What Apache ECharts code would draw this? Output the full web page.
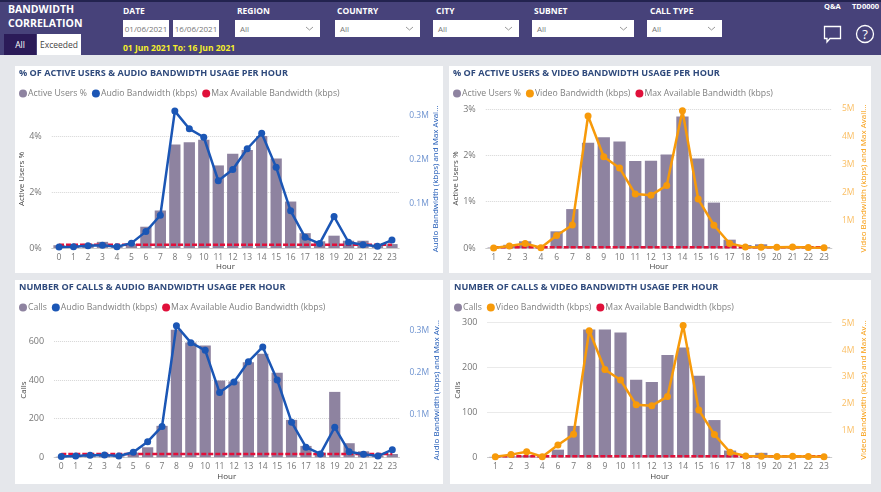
<!DOCTYPE html>
<html>
<head>
<meta charset="utf-8">
<title>Bandwidth Correlation</title>
<script src="https://cdn.jsdelivr.net/npm/echarts@6/dist/echarts.min.js"></script>
<style>
  html, body { margin: 0; padding: 0; background: #e5e7eb; font-family: "Open Sans", sans-serif; }
  #page { position: relative; width: 881px; height: 492px; overflow: hidden; }
  #header { position: absolute; left: 0; top: 0; width: 881px; height: 55px; background: #47427a; border-top: 2px solid #23234f; box-sizing: border-box; color: #fff; }
  #header div { position: absolute; white-space: nowrap; }
  .brand { left: 8px; font-weight: 700; font-size: 10.5px; }
  .lbl { top: 3px; font-weight: 700; font-size: 8.5px; }
  .box { top: 18px; height: 17px; background: #fff; color: #777; font-size: 8px; line-height: 17px; text-align: center; }
  .sel { text-align: left; text-indent: 5px; }
  .sel svg { position: absolute; right: 6px; top: 6px; }
  .tab { top: 32px; height: 21px; line-height: 21px; text-align: center; font-size: 8.5px; }
  .panel { position: absolute; background: #fff; }
</style>
</head>
<body>
<div id="page">
  <div id="header">
    <div class="brand" style="top:0px">BANDWIDTH</div>
    <div class="brand" style="top:14px">CORRELATION</div>
    <div class="tab" style="left:4px;width:32px;background:#2b1b58;color:#fff">All</div>
    <div class="tab" style="left:37px;width:44px;background:#fff;color:#444">Exceeded</div>
    <div class="lbl" style="left:123px">DATE</div>
    <div class="box" style="left:123px;width:46px">01/06/2021</div>
    <div class="box" style="left:173px;width:46px">16/06/2021</div>
    <div style="left:123px;top:40px;color:#f6ee2a;font-weight:700;font-size:8.5px">01 Jun 2021 To: 16 Jun 2021</div>
    <div class="lbl" style="left:237px">REGION</div>
    <div class="box sel" style="left:235px;width:85px">All<svg width="9" height="5"><path d="M1 1l3.5 3L8 1" fill="none" stroke="#999"/></svg></div>
    <div class="lbl" style="left:337px">COUNTRY</div>
    <div class="box sel" style="left:335px;width:85px">All<svg width="9" height="5"><path d="M1 1l3.5 3L8 1" fill="none" stroke="#999"/></svg></div>
    <div class="lbl" style="left:436px">CITY</div>
    <div class="box sel" style="left:433px;width:86px">All<svg width="9" height="5"><path d="M1 1l3.5 3L8 1" fill="none" stroke="#999"/></svg></div>
    <div class="lbl" style="left:534px">SUBNET</div>
    <div class="box sel" style="left:532px;width:102px">All<svg width="9" height="5"><path d="M1 1l3.5 3L8 1" fill="none" stroke="#999"/></svg></div>
    <div class="lbl" style="left:650px">CALL TYPE</div>
    <div class="box sel" style="left:647px;width:75px">All<svg width="9" height="5"><path d="M1 1l3.5 3L8 1" fill="none" stroke="#999"/></svg></div>
    <div style="left:824px;top:-1px;font-weight:700;font-size:7.5px">Q&amp;A</div>
    <div style="left:852px;top:-1px;font-weight:700;font-size:7.5px">TD0000</div>
    <div style="left:823px;top:22px">
      <svg width="20" height="20"><path d="M1.5 2.5h16v12H7l-3 3.5v-3.5H1.5z" fill="none" stroke="#fff" stroke-width="1.3"/></svg>
    </div>
    <div style="left:855px;top:22px">
      <svg width="20" height="20"><circle cx="10" cy="10" r="8.5" fill="none" stroke="#fff" stroke-width="1.3"/><text x="10" y="14.5" text-anchor="middle" font-size="13" fill="#fff" font-family="Open Sans">?</text></svg>
    </div>
  </div>
  <div class="panel" id="c1" style="left:15px;top:66px;width:428px;height:207px"></div>
  <div class="panel" id="c2" style="left:449px;top:66px;width:422px;height:207px"></div>
  <div class="panel" id="c3" style="left:15px;top:280px;width:428px;height:204px"></div>
  <div class="panel" id="c4" style="left:450px;top:280px;width:421px;height:204px"></div>
</div>
<script>
// hours present in each pair of visuals (video pages have no hour 0 or 5)
const audioHours = ['0','1','2','3','4','5','6','7','8','9','10','11','12','13','14','15','16','17','18','19','20','21','22','23'];
const videoHours = ['1','2','3','4','6','7','8','9','10','11','12','13','14','15','16','17','18','19','20','21','22','23'];

const audioUsersPct = [0.1,0.08,0.15,0.22,0.06,0.15,0.76,1.34,3.7,3.78,3.87,2.95,3.37,3.5,4.0,3.2,1.66,0.53,0.24,0.44,0.26,0.26,0.1,0.14];
const audioKbpsA = [2000,3000,5000,6000,3000,11000,37000,74000,309000,269000,250000,152000,177000,224000,259000,182000,84000,24000,10000,71000,13000,7500,4000,18000];
const maxAudioKbpsA = [7500,7500,7500,7500,7500,7500,7500,7500,7500,7500,7500,7500,7500,7500,7500,7500,7500,7500,7500,7500,7500,7500,7500,7500];

const videoUsersPct = [0.01,0.07,0.145,0.015,0.36,0.84,2.27,2.39,2.3,1.88,1.885,2.02,2.84,1.93,0.98,0.18,0.065,0.08,0.035,0.035,0.02,0.015];
const videoKbpsA = [0,70000,160000,10000,450000,830000,4750000,3280000,2880000,1940000,1900000,2250000,4940000,1760000,820000,160000,40000,30000,30000,40000,20000,10000];
const maxVideoKbpsA = [25000,25000,25000,25000,25000,25000,25000,25000,25000,25000,25000,25000,25000,25000,25000,25000,25000,25000,25000,25000,25000,25000];

const audioCalls = [3,3,8,10,5,24,52,163,661,595,580,398,393,493,536,438,194,59,24,339,73,31,10,17];
const audioKbpsB = [2000,3000,5000,5500,3000,12000,37000,73000,311000,271000,253000,153000,178000,226000,261000,183000,83000,24000,8000,71000,13000,7000,3000,18000];
const maxAudioKbpsB = [8000,8000,8000,8000,8000,8000,8000,8000,8000,8000,8000,8000,8000,8000,8000,8000,8000,8000,8000,8000,8000,8000,8000,8000];

const videoCalls = [1,2,4,1,17,70,285,285,278,173,168,228,245,182,83,15,4,10,3,2,2,1];
const videoKbpsB = [20000,100000,210000,20000,460000,860000,4730000,3280000,2890000,1960000,1930000,2270000,4930000,1770000,850000,190000,50000,40000,30000,40000,30000,20000];
const maxVideoKbpsB = [35000,35000,35000,35000,35000,35000,35000,35000,35000,35000,35000,35000,35000,35000,35000,35000,35000,35000,35000,35000,35000,35000];

const FONT = '"Open Sans", sans-serif';
const BAR = '#8e83a0';
const BLUE = '#1b56b5';
const ORANGE = '#f79a0a';
const RED = '#e0103a';

function drawPanel(id, cfg) {
  const chart = echarts.init(document.getElementById(id), null, { renderer: 'canvas' });
  chart.setOption({
    animation: false,
    textStyle: { fontFamily: FONT },
    title: {
      text: cfg.title, left: 4, top: 0, padding: 0,
      textStyle: { fontFamily: FONT, fontSize: 9.1, fontWeight: 700, color: '#2f4a7c', lineHeight: 14 }
    },
    legend: {
      left: 4, top: 23, padding: 0, itemWidth: 8, itemHeight: 8, itemGap: 5,
      icon: 'circle',
      textStyle: { fontFamily: FONT, fontSize: 8.7, color: '#808080', padding: [0, 0, 0, -4] },
      data: [cfg.barName, cfg.lineName, cfg.maxName]
    },
    grid: { ...cfg.grid, outerBoundsMode: 'none' },
    xAxis: {
      type: 'category', data: cfg.hours, name: 'Hour', nameLocation: 'middle', nameGap: 15,
      nameMoveOverlap: false,
      nameTextStyle: { fontSize: 8, color: '#444', fontFamily: FONT },
      axisTick: { show: false },
      axisLine: { lineStyle: { color: '#ccc' } },
      axisLabel: { interval: 0, fontSize: 8.5, color: '#777', margin: 5 }
    },
    yAxis: [
      {
        type: 'value', min: 0, max: cfg.leftMax, interval: cfg.leftStep,
        name: cfg.leftName, nameLocation: 'middle', nameRotate: 90, nameGap: 26,
        nameMoveOverlap: false,
        nameTextStyle: { fontSize: 8, color: '#444', fontFamily: FONT },
        axisLabel: {
          fontSize: 9, color: '#777', margin: 10,
          formatter: v => (v % cfg.leftStep === 0 ? v + cfg.leftUnit : '')
        },
        axisLine: { show: false }, axisTick: { show: false },
        splitLine: { showMaxLine: cfg.leftMaxLine, lineStyle: { type: 'dotted', color: '#d5d5d5' } }
      },
      {
        type: 'value', min: 0, max: cfg.rightMax, interval: cfg.rightStep,
        name: cfg.rightName, nameLocation: 'middle', nameRotate: 90, nameGap: cfg.rightGap,
        nameMoveOverlap: false,
        nameTextStyle: { fontSize: 8, color: cfg.color, fontFamily: FONT },
        axisLabel: {
          fontSize: 8.5, color: cfg.color, opacity: 0.65, margin: 10,
          formatter: v => (v > 0 && v % cfg.rightStep === 0 ? (v / 1e6) + 'M' : '')
        },
        axisLine: { show: false }, axisTick: { show: false },
        splitLine: { show: false }
      }
    ],
    series: [
      {
        name: cfg.barName, type: 'bar', data: cfg.bars, barCategoryGap: '22%',
        itemStyle: { color: BAR }
      },
      {
        name: cfg.maxName, type: 'line', yAxisIndex: 1, data: cfg.max, symbol: 'none',
        itemStyle: { color: RED },
        lineStyle: { color: RED, width: 2.5, type: [5, 2] }
      },
      {
        name: cfg.lineName, type: 'line', yAxisIndex: 1, data: cfg.line,
        symbol: 'circle', symbolSize: 7,
        itemStyle: { color: cfg.color },
        lineStyle: { color: cfg.color, width: 2.5 }
      }
    ]
  });
}

drawPanel('c1', {
  title: '% OF ACTIVE USERS & AUDIO BANDWIDTH USAGE PER HOUR',
  barName: 'Active Users %', lineName: 'Audio Bandwidth (kbps)', maxName: 'Max Available Bandwidth (kbps)',
  hours: audioHours, bars: audioUsersPct, line: audioKbpsA, max: maxAudioKbpsA, color: BLUE,
  grid: { left: 36.8, top: 44, width: 347.4, height: 138 },
  leftName: 'Active Users %', leftMax: 4.93, leftStep: 2, leftUnit: '%', leftMaxLine: false,
  rightName: 'Audio Bandwidth (kbps) and Max Avai…', rightMax: 311500, rightStep: 100000, rightGap: 33
});
drawPanel('c2', {
  title: '% OF ACTIVE USERS & VIDEO BANDWIDTH USAGE PER HOUR',
  barName: 'Active Users %', lineName: 'Video Bandwidth (kbps)', maxName: 'Max Available Bandwidth (kbps)',
  hours: videoHours, bars: videoUsersPct, line: videoKbpsA, max: maxVideoKbpsA, color: ORANGE,
  grid: { left: 36.8, top: 43, width: 346.1, height: 139 },
  leftName: 'Active Users %', leftMax: 3, leftStep: 1, leftUnit: '%', leftMaxLine: true,
  rightName: 'Video Bandwidth (kbps) and Max Avail…', rightMax: 5000000, rightStep: 1000000, rightGap: 28
});
drawPanel('c3', {
  title: 'NUMBER OF CALLS & AUDIO BANDWIDTH USAGE PER HOUR',
  barName: 'Calls', lineName: 'Audio Bandwidth (kbps)', maxName: 'Max Available Audio Bandwidth (kbps)',
  hours: audioHours, bars: audioCalls, line: audioKbpsB, max: maxAudioKbpsB, color: BLUE,
  grid: { left: 39.1, top: 43, width: 345.4, height: 134.3 },
  leftName: 'Calls', leftMax: 696, leftStep: 200, leftUnit: '', leftMaxLine: false,
  rightName: 'Audio Bandwidth (kbps) and Max Av…', rightMax: 317500, rightStep: 100000, rightGap: 33
});
drawPanel('c4', {
  title: 'NUMBER OF CALLS & VIDEO BANDWIDTH USAGE PER HOUR',
  barName: 'Calls', lineName: 'Video Bandwidth (kbps)', maxName: 'Max Available Bandwidth (kbps)',
  hours: videoHours, bars: videoCalls, line: videoKbpsB, max: maxVideoKbpsB, color: ORANGE,
  grid: { left: 37.5, top: 42.7, width: 344.3, height: 134.6 },
  leftName: 'Calls', leftMax: 300, leftStep: 100, leftUnit: '', leftMaxLine: true,
  rightName: 'Video Bandwidth (kbps) and Max Av…', rightMax: 5030000, rightStep: 1000000, rightGap: 28
});
</script>
</body>
</html>
